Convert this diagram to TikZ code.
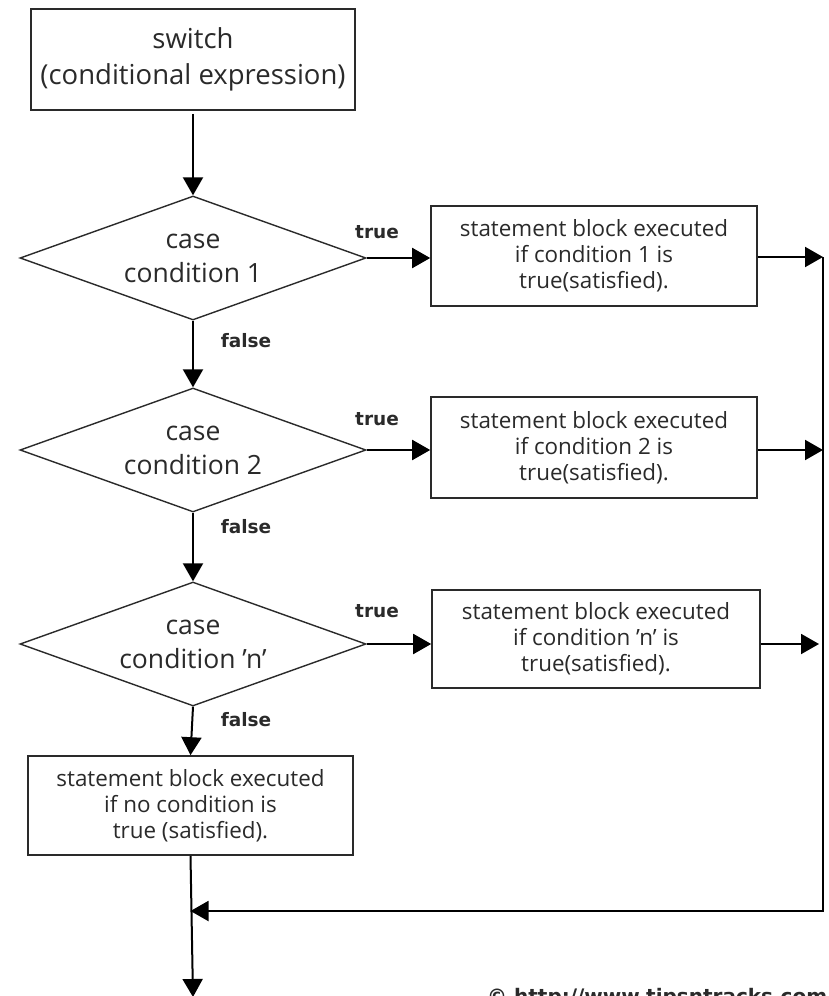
\documentclass[tikz,border=0pt]{standalone}
\usepackage{fontspec}
\setmainfont{Open Sans}
\newfontfamily\lblfont{DejaVu Sans}
\usetikzlibrary{shapes.geometric,arrows.meta}
\definecolor{ink}{HTML}{2A2A2A}
\begin{document}
\begin{tikzpicture}[x=1pt,y=-1pt,
  box/.style={draw=ink, line width=1.6pt, rectangle, inner sep=0pt, align=center, text=ink},
  txt/.style={font=\fontsize{22.4}{26}\selectfont},
  dec/.style={draw=ink, line width=1.4pt, diamond, aspect=2.79, inner sep=0pt,
    minimum width=346pt, minimum height=124pt, align=center,
    font=\fontsize{26.5}{34}\selectfont, text=ink},
  arr/.style={draw=black, line width=2pt, -{Triangle[length=18pt,width=20pt]}},
  lbl/.style={font=\lblfont\bfseries\fontsize{18.5}{20}\selectfont, text=ink, inner sep=0pt}
]
\useasboundingbox (0,0) rectangle (829,996);
\clip (0,0) rectangle (829,996);
\fill[white] (0,0) rectangle (829,996);

\node[box, minimum width=324pt, minimum height=101pt, font=\fontsize{27.5}{36}\selectfont]
  (sw) at (193,59.5) {switch\\(conditional expression)};

\node[dec] (d1) at (193,258) {case\\condition 1};
\node[dec] (d2) at (193,450) {case\\condition 2};
\node[dec] (d3) at (193,644) {case\\condition 'n'};

\node[box, txt, minimum width=326pt, minimum height=100pt] (s1) at (594,256)
  {statement block executed\\if condition 1 is\\ true(satisfied).};
\node[box, txt, minimum width=326pt, minimum height=101pt] (s2) at (594,447.5)
  {statement block executed\\if condition 2 is\\ true(satisfied).};
\node[box, txt, minimum width=328pt, minimum height=98pt] (s3) at (596,639)
  {statement block executed\\if condition 'n' is\\ true(satisfied).};
\node[box, txt, minimum width=325pt, minimum height=99pt] (f) at (190.5,805.5)
  {statement block executed\\if no condition is\\ true (satisfied).};

\node[lbl] (t1) at (377,232) {true};
\node[lbl] (t2) at (377,419) {true};
\node[lbl] (t3) at (377,611) {true};
\node[lbl] (f1) at (246,341) {false};
\node[lbl] (f2) at (246,527) {false};
\node[lbl] (f3) at (246,720) {false};

\coordinate (rt) at (823,257);
\coordinate (rb) at (823,911);
\coordinate (fend) at (193,997);

\draw[arr, shorten <=3pt] (sw.south) -- (d1.north);
\draw[arr] (d1.south) -- (d2.north);
\draw[arr] (d2.south) -- (d3.north);
\draw[arr] (d3.south) -- (f.north);

\draw[arr] (d1.east) -- (d1.east -| s1.west);
\draw[arr] (d2.east) -- (d2.east -| s2.west);
\draw[arr] (d3.east) -- (d3.east -| s3.west);

\draw[arr] (s1.east |- rt) -- (rt);
\draw[arr] (s2.east |- d2.east) -- (d2.east -| rt);
\draw[arr, shorten >=4pt] (s3.east |- d3.east) -- (d3.east -| rt);

\draw[arr] (rt) -- (rb) -- (rb -| f.south);
\draw[arr] (f.south) -- (fend);

\node[anchor=north west, font=\lblfont\bfseries\fontsize{20}{22}\selectfont, text=ink, inner sep=0pt]
  (wm) at (487,988) {© http://www.tipsntracks.com};
\end{tikzpicture}
\end{document}
